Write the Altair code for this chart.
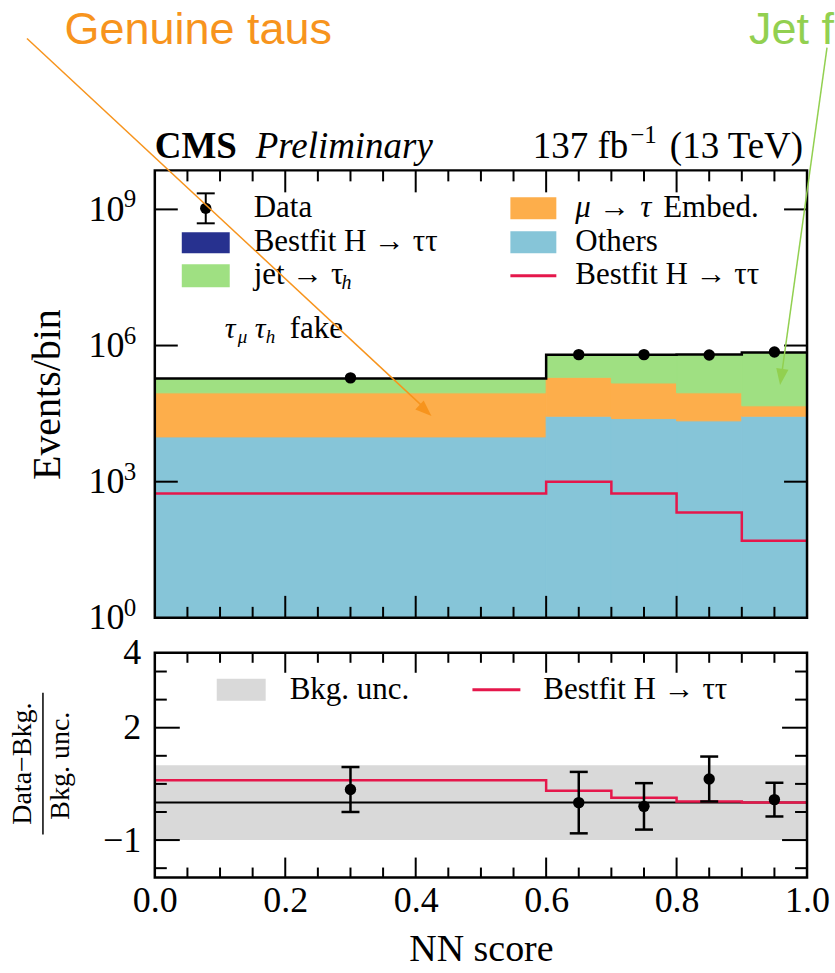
import altair as alt
import pandas as pd

# ---------------- data ----------------
bin_lo = [0.0, 0.6, 0.7, 0.8, 0.9]
bin_hi = [0.6, 0.7, 0.8, 0.9, 1.0]
bin_mid = [0.3, 0.65, 0.75, 0.85, 0.95]
others = [9.7e3, 2.77e4, 2.46e4, 2.19e4, 2.77e4]
embed = [8.1e4, 1.72e5, 1.25e5, 6.9e4, 1.93e4]
jet_fakes = [9.6e4, 4.3e5, 4.8e5, 5.4e5, 6.53e5]
signal_fit = [550, 1000, 550, 210, 50]
data_obs = [1.94e5, 6.3e5, 6.3e5, 6.2e5, 7.2e5]

pull = [0.35, 0.0, -0.1, 0.63, 0.08]
pull_err = [0.6, 0.82, 0.62, 0.6, 0.45]
pull_sig = [0.6, 0.32, 0.13, 0.03, 0.0]
band_lo, band_hi = -1.0, 1.0

x_labels = [0.0, 0.2, 0.4, 0.6, 0.8, 1.0]
x_major = [0.2, 0.4, 0.6, 0.8]
x_minor = [0.05, 0.1, 0.15, 0.25, 0.3, 0.35, 0.45, 0.5, 0.55, 0.65, 0.7,
           0.75, 0.85, 0.9, 0.95]
top_y_labels = [1, 1e3, 1e6, 1e9]
top_y_exponents = ["0", "3", "6", "9"]
top_y_ticks = [1e3, 1e6, 1e9]
ratio_labels = [4, 2, -1]
ratio_major = [2, -1]
ratio_minor = [3.5, 2.75, 1.25, 0.5, -0.25, -1.75]

# ---------------- geometry / style ----------------
W, H = 653, 708
TOP_H = 448
BOT_Y0 = 483
SERIF = "Liberation Serif"
SANS = "Liberation Sans"
C_OTHERS = "#86C5D8"
C_EMBED = "#FDAE4B"
C_JET = "#9FE082"
C_SIG = "#27318F"
C_RED = "#E5174B"
C_BAND = "#D9D9D9"
C_ANN_OR = "#F7941D"
C_ANN_GR = "#92D050"

one = pd.DataFrame({"k": [0]})

xs = alt.Scale(domain=[0, 1], nice=False, zero=False)
ys_top = alt.Scale(type="log", domain=[1, 7.24e9], range=[TOP_H, 0], nice=False, clamp=True)
ys_bot = alt.Scale(domain=[-2, 4], range=[H, BOT_Y0], nice=False, zero=False)

x_axis = alt.Axis(values=x_labels, format=".1f", labelFont=SERIF, labelFontSize=36,
                  labelColor="black", labelPadding=6, ticks=False, domain=False,
                  grid=False, labelFlush=False, labelOverlap=False,
                  title="NN score", titleFont=SERIF, titleFontSize=38,
                  titleFontWeight="normal", titleColor="black", titlePadding=12)

y_top_axis = alt.Axis(orient="left", values=top_y_labels, labelExpr="'10'",
                      labelFont=SERIF, labelFontSize=36, labelColor="black",
                      labelPadding=31, ticks=False, domain=False, grid=False,
                      labelFlush=False, labelOverlap=False,
                      title="Events/bin", titleFont=SERIF, titleFontSize=40,
                      titleFontWeight="normal", titleColor="black", titlePadding=20)

y_bot_axis = alt.Axis(orient="left", values=ratio_labels,
                      labelExpr="datum.value < 0 ? '−' + abs(datum.value) : datum.label",
                      labelFont=SERIF, labelFontSize=36, labelColor="black",
                      labelPadding=14, ticks=False, domain=False, grid=False,
                      labelFlush=False, labelOverlap=False, title=None)


def X(f):
    return alt.X(f"{f}:Q", scale=xs, axis=x_axis)


def YT(f):
    return alt.Y(f"{f}:Q", scale=ys_top, axis=y_top_axis)


def YB(f):
    return alt.Y(f"{f}:Q", scale=ys_bot, axis=y_bot_axis)


def text_at(s, x, y, size, font=SERIF, color="black", align="left",
            baseline="middle", style="normal", weight="normal", angle=0):
    return alt.Chart(one).mark_text(
        text=s, font=font, fontSize=size, color=color, align=align,
        baseline=baseline, fontStyle=style, fontWeight=weight, angle=angle
    ).encode(x=alt.value(x), y=alt.value(y))


def seg(x1, y1, x2, y2, color="black", width=2.5):
    return alt.Chart(one).mark_rule(color=color, strokeWidth=width).encode(
        x=alt.value(x1), y=alt.value(y1), x2=alt.value(x2), y2=alt.value(y2))


def box(x1, y1, x2, y2, color):
    return alt.Chart(one).mark_rect(color=color).encode(
        x=alt.value(x1), y=alt.value(y1), x2=alt.value(x2), y2=alt.value(y2))


def frame(y1, y2):
    return alt.Chart(one).mark_rect(filled=False, stroke="black", strokeWidth=2.5).encode(
        x=alt.value(0), x2=alt.value(W), y=alt.value(y1), y2=alt.value(y2))


def xticks(pos, y1, y2):
    return alt.Chart(pd.DataFrame({"x": pos})).mark_rule(color="black", strokeWidth=2).encode(
        x=X("x"), y=alt.value(y1), y2=alt.value(y2))


def yticks(pos, Yf, x1, x2):
    return alt.Chart(pd.DataFrame({"v": pos})).mark_rule(color="black", strokeWidth=2).encode(
        y=Yf("v"), x=alt.value(x1), x2=alt.value(x2))


# ---------------- top panel ----------------
rows = []
for i in range(5):
    o, e, j = others[i], embed[i], jet_fakes[i]
    rows.append(dict(x=bin_lo[i], x2=bin_hi[i], y=1.0, y2=o, comp="Others"))
    rows.append(dict(x=bin_lo[i], x2=bin_hi[i], y=o, y2=o + e, comp="Embed"))
    rows.append(dict(x=bin_lo[i], x2=bin_hi[i], y=o + e, y2=o + e + j, comp="Jet"))
stack_df = pd.DataFrame(rows)
comp_scale = alt.Scale(domain=["Others", "Embed", "Jet"], range=[C_OTHERS, C_EMBED, C_JET])

stack = alt.Chart(stack_df).mark_rect(strokeWidth=1).encode(
    x=X("x"), x2="x2", y=YT("y"), y2="y2",
    color=alt.Color("comp:N", scale=comp_scale, legend=None),
    stroke=alt.Stroke("comp:N", scale=comp_scale, legend=None))

edges = bin_lo + [bin_hi[-1]]
totals = [others[i] + embed[i] + jet_fakes[i] for i in range(5)]
step_df = pd.DataFrame({"x": edges, "tot": totals + [totals[-1]],
                        "sig": signal_fit + [signal_fit[-1]]})
tot_line = alt.Chart(step_df).mark_line(interpolate="step-after", color="black",
                                        strokeWidth=2.5).encode(x=X("x"), y=YT("tot"))
sig_line = alt.Chart(step_df).mark_line(interpolate="step-after", color=C_RED,
                                        strokeWidth=2.5).encode(x=X("x"), y=YT("sig"))
pts_df = pd.DataFrame({"x": bin_mid, "obs": data_obs})
pts = alt.Chart(pts_df).mark_circle(size=130, color="black", opacity=1).encode(
    x=X("x"), y=YT("obs"))

exp_df = pd.DataFrame({"v": top_y_labels, "e": top_y_exponents})
exponents = alt.Chart(exp_df).mark_text(font=SERIF, fontSize=25, color="black",
                                        align="left", baseline="middle", dy=-10).encode(
    y=YT("v"), x=alt.value(-31), text="e:N")

top_layers = [
    stack, tot_line, sig_line, pts, exponents,
    xticks(x_major, TOP_H, TOP_H - 22), xticks(x_minor, TOP_H, TOP_H - 11),
    xticks(x_major, 0, 22), xticks(x_minor, 0, 11),
    yticks(top_y_ticks, YT, 0, 23), yticks(top_y_ticks, YT, W - 23, W),
    frame(0, TOP_H),
    # legend
    seg(51, 23, 51, 53, width=2), seg(42, 23, 60, 23, width=2), seg(42, 53, 60, 53, width=2),
    alt.Chart(one).mark_circle(size=130, color="black", opacity=1).encode(
        x=alt.value(51), y=alt.value(38)),
    text_at("Data", 99, 38, 31),
    box(27, 62, 75, 83, C_SIG),
    text_at("Bestfit H → ττ", 99, 72, 31),
    box(27, 94, 75, 117, C_JET),
    text_at("jet → τ", 99, 105, 31),
    text_at("h", 187, 113, 20, style="italic"),
    box(356, 27, 402, 49, C_EMBED),
    text_at("μ", 421, 38, 31, style="italic"),
    text_at("→", 445, 38, 31),
    text_at("τ", 486, 38, 31, style="italic"),
    text_at("Embed.", 509, 38, 31),
    box(356, 61, 402, 83, C_OTHERS),
    text_at("Others", 421, 72, 31),
    seg(356, 105.5, 402, 105.5, color=C_RED, width=3),
    text_at("Bestfit H → ττ", 421, 105, 31),
    # category label
    text_at("τ", 70, 168, 30, baseline="alphabetic", style="italic"),
    text_at("μ", 83, 173, 19, baseline="alphabetic", style="italic"),
    text_at("τ", 100, 168, 30, baseline="alphabetic", style="italic"),
    text_at("h", 111, 173, 19, baseline="alphabetic", style="italic"),
    text_at("fake", 135, 168, 31, baseline="alphabetic"),
    # header
    text_at("CMS", 0, -12, 37, baseline="alphabetic", weight="bold"),
    text_at("Preliminary", 101, -12, 37, baseline="alphabetic", style="italic"),
    text_at("137 fb", 474, -12, 37, align="right", baseline="alphabetic"),
    text_at("−1", 476, -27, 25, baseline="alphabetic"),
    text_at("(13 TeV)", 649, -12, 37, align="right", baseline="alphabetic"),
    # slide annotations
    text_at("Genuine taus", 43.5, -127, 45, font=SANS, color=C_ANN_OR, align="center",
            baseline="alphabetic"),
    text_at("Jet f", 595, -127, 45, font=SANS, color=C_ANN_GR, baseline="alphabetic"),
    seg(-128, -132, 270, 238, color=C_ANN_OR, width=1.5),
    alt.Chart(one).mark_point(shape="M0,0L-0.6,-1.6L0.6,-1.6Z", size=420, filled=True,
                              color=C_ANN_OR, opacity=1, angle=313).encode(
        x=alt.value(277), y=alt.value(246)),
    seg(673, -123, 627.5, 205, color=C_ANN_GR, width=1.5),
    alt.Chart(one).mark_point(shape="M0,0L-0.6,-1.6L0.6,-1.6Z", size=420, filled=True,
                              color=C_ANN_GR, opacity=1, angle=8).encode(
        x=alt.value(626), y=alt.value(215)),
    # anchor for the page's top-left corner
    alt.Chart(one).mark_rule(strokeWidth=0.01, opacity=0).encode(
        x=alt.value(-155), x2=alt.value(-154.9), y=alt.value(-170), y2=alt.value(-170)),
]
top = alt.layer(*top_layers)

# ---------------- ratio panel ----------------
band_df = pd.DataFrame({"x": [0.0], "x2": [1.0], "lo": [band_lo], "hi": [band_hi]})
band = alt.Chart(band_df).mark_rect(color=C_BAND).encode(
    x=X("x"), x2="x2", y=YB("lo"), y2="hi")
zero_df = pd.DataFrame({"x": [0.0], "x2": [1.0], "r": [0.0]})
zero = alt.Chart(zero_df).mark_rule(color="black", strokeWidth=2).encode(
    x=X("x"), x2="x2", y=YB("r"))
rstep_df = pd.DataFrame({"x": edges, "r": pull_sig + [pull_sig[-1]]})
rstep = alt.Chart(rstep_df).mark_line(interpolate="step-after", color=C_RED,
                                      strokeWidth=2.5).encode(x=X("x"), y=YB("r"))
err_df = pd.DataFrame({"x": bin_mid, "r": pull,
                       "lo": [p - e for p, e in zip(pull, pull_err)],
                       "hi": [p + e for p, e in zip(pull, pull_err)]})
ebar = alt.Chart(err_df).mark_rule(color="black", strokeWidth=2.5).encode(
    x=X("x"), y=YB("lo"), y2="hi")
cap_lo = alt.Chart(err_df).mark_tick(orient="horizontal", size=18, thickness=2.5,
                                     color="black", opacity=1).encode(x=X("x"), y=YB("lo"))
cap_hi = alt.Chart(err_df).mark_tick(orient="horizontal", size=18, thickness=2.5,
                                     color="black", opacity=1).encode(x=X("x"), y=YB("hi"))
rpts = alt.Chart(err_df).mark_circle(size=130, color="black", opacity=1).encode(
    x=X("x"), y=YB("r"))

bot_layers = [
    band, zero, rstep, ebar, cap_lo, cap_hi, rpts,
    xticks(x_major, BOT_Y0, BOT_Y0 + 20), xticks(x_minor, BOT_Y0, BOT_Y0 + 10),
    xticks(x_major, H, H - 20), xticks(x_minor, H, H - 10),
    yticks(ratio_major, YB, 0, 25), yticks(ratio_minor, YB, 0, 12),
    yticks(ratio_major, YB, W - 25, W), yticks(ratio_minor, YB, W - 12, W),
    frame(BOT_Y0, H),
    box(62, 509, 111, 531, C_BAND),
    text_at("Bkg. unc.", 135, 520, 31),
    seg(318, 520, 366, 520, color=C_RED, width=3),
    text_at("Bestfit H → ττ", 389, 520, 31),
    text_at("Data−Bkg.", -132, 594, 28, align="center", angle=270),
    seg(-112, 523, -112, 665, width=1.5),
    text_at("Bkg. unc.", -94, 596, 28, align="center", angle=270),
]
bottom = alt.layer(*bot_layers)

chart = alt.layer(top, bottom).resolve_scale(y="independent").resolve_axis(
    y="independent").properties(
    width=W, height=H, padding=0, autosize=alt.AutoSizeParams(type="pad"),
    background="white").configure_view(stroke=None)

chart.save("out.html", embed_options={"renderer": "svg", "actions": False})
